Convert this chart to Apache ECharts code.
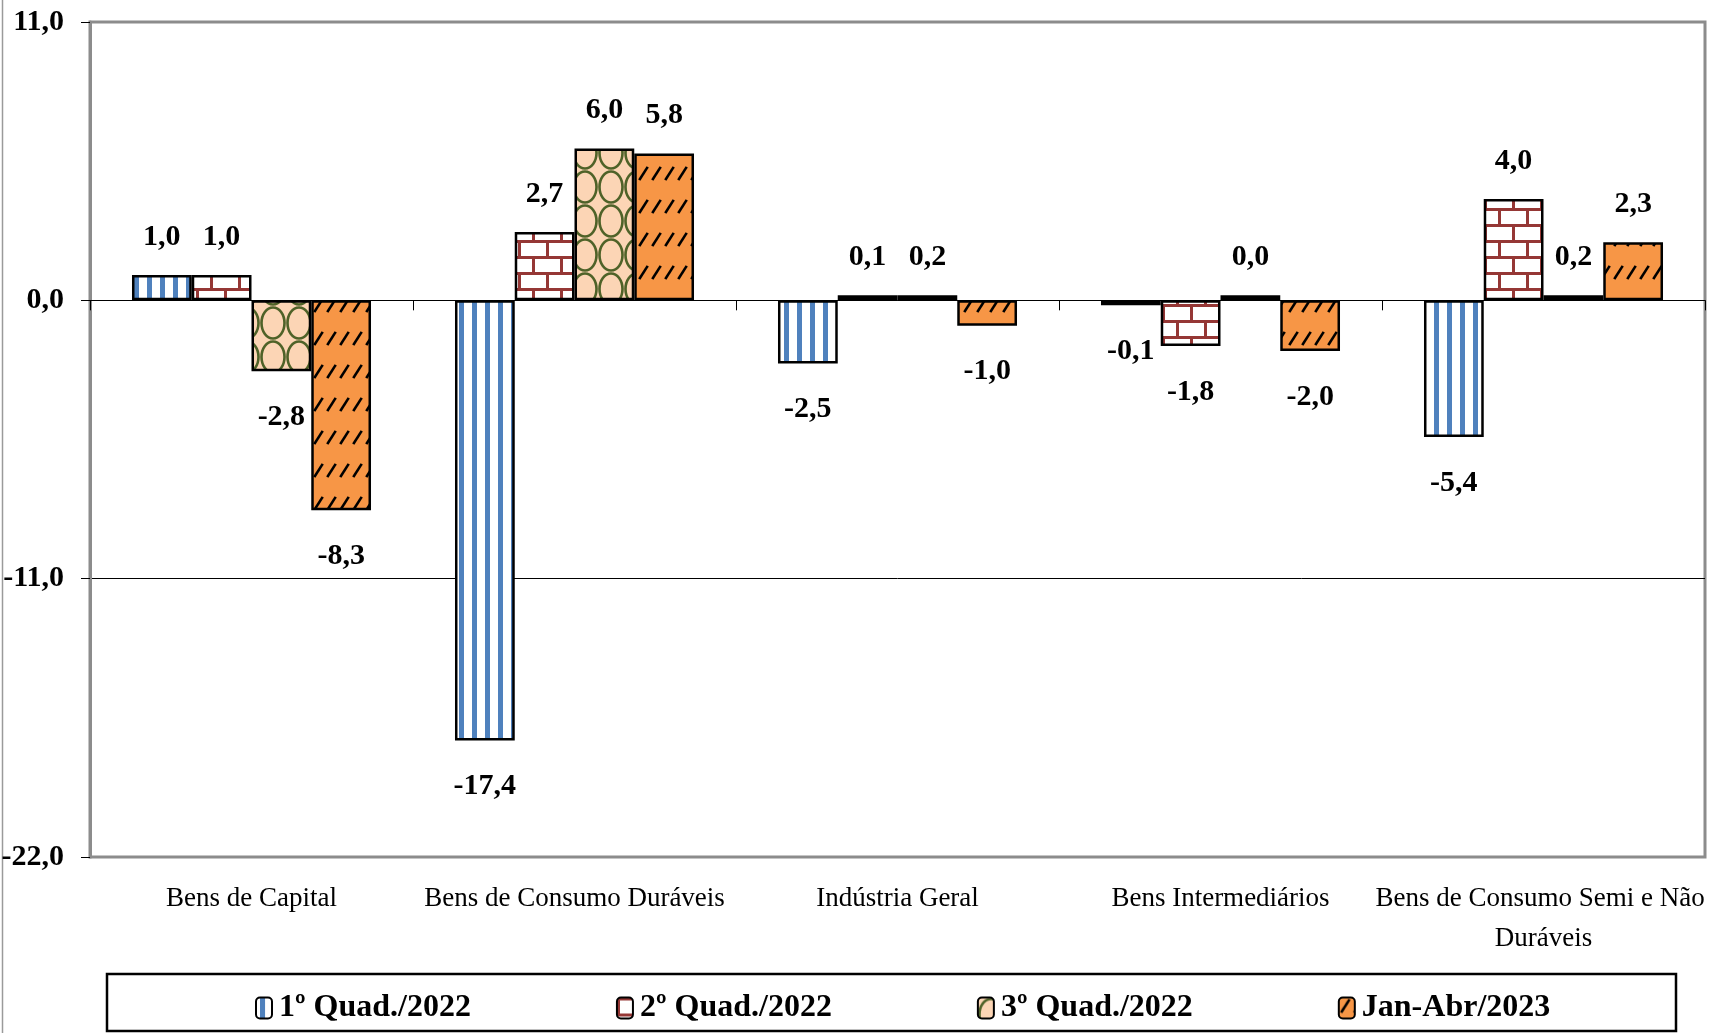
<!DOCTYPE html>
<html><head><meta charset="utf-8">
<script src="https://cdn.jsdelivr.net/npm/echarts/dist/echarts.min.js"></script>
<style>html,body{margin:0;padding:0;background:#fff}#c{width:1720px;height:1033px}</style>
</head><body><div id="c"></div>
<script>
const categories = ['Bens de Capital', 'Bens de Consumo Duráveis', 'Indústria Geral', 'Bens Intermediários', 'Bens de Consumo Semi e Não Duráveis'];
const seriesNames = ['1º Quad./2022', '2º Quad./2022', '3º Quad./2022', 'Jan-Abr/2023'];
const q1_2022 = [1.0, -17.4, -2.5, -0.1, -5.4];
const q2_2022 = [1.0, 2.7, 0.1, -1.8, 4.0];
const q3_2022 = [-2.8, 6.0, 0.2, 0.0, 0.2];
const janAbr2023 = [-8.3, 5.8, -1.0, -2.0, 2.3];
const yMin = -22, yMax = 11, yStep = 11;

const FONT = 'Liberation Serif';
function mk(w, h, draw) {
  const c = document.createElement('canvas');
  c.width = w; c.height = h;
  const g = c.getContext('2d');
  draw(g);
  return { image: c, repeat: 'repeat' };
}
const patStripes = mk(13, 4, g => {
  g.fillStyle = '#fff'; g.fillRect(0, 0, 13, 4);
  g.fillStyle = '#4F81BD'; g.fillRect(4, 0, 5, 4);
});
const patBrick = mk(28, 32, g => {
  g.fillStyle = '#fff'; g.fillRect(0, 0, 28, 32);
  g.fillStyle = '#953735';
  g.fillRect(0, 0, 28, 3); g.fillRect(0, 16, 28, 3);
  g.fillRect(0, 3, 3, 13); g.fillRect(14, 19, 3, 13);
});
const patScale = mk(26, 34, g => {
  g.fillStyle = '#FCD5B5'; g.fillRect(0, 0, 26, 34);
  g.strokeStyle = '#4F6228'; g.lineWidth = 2.6;
  g.beginPath(); g.ellipse(13, 17, 11.5, 15.5, 0, 0, Math.PI * 2); g.stroke();
});
const patDash = mk(13, 33, g => {
  g.fillStyle = '#F79646'; g.fillRect(0, 0, 13, 33);
  g.strokeStyle = '#000'; g.lineWidth = 2.6; g.lineCap = 'square';
  g.beginPath(); g.moveTo(3, 14); g.lineTo(10, 3); g.stroke();
});
const patterns = [patStripes, patBrick, patScale, patDash];
const allData = [q1_2022, q2_2022, q3_2022, janAbr2023];

const fmt = v => v.toFixed(1).replace('.', ',');

const series = allData.map((arr, i) => ({
  name: seriesNames[i],
  type: 'bar',
  xAxisIndex: 0,
  barGap: '0%',
  barCategoryGap: '26%',
  barMinHeight: 5,
  itemStyle: { color: patterns[i], borderColor: '#000', borderWidth: 2.5 },
  label: {
    show: true,
    fontFamily: FONT, fontWeight: 'bold', fontSize: 30, color: '#000',
    formatter: p => fmt(p.value)
  },
  data: arr.map(v => ({
    value: v,
    label: { position: v >= 0 ? 'top' : 'bottom', distance: v >= 0 ? 23 : 31 }
  }))
}));

const chart = echarts.init(document.getElementById('c'), null, { renderer: 'canvas' });
chart.setOption({
  animation: false,
  backgroundColor: '#fff',
  grid: {
    left: 90, right: 15, top: 22, bottom: 176,
    containLabel: false, outerBoundsMode: 'none',
    show: true, borderColor: '#8c8c8c', borderWidth: 3
  },
  legend: {
    data: seriesNames,
    left: 250, top: 987,
    itemWidth: 16, itemHeight: 21, itemGap: 145,
    textStyle: { fontFamily: FONT, fontWeight: 'bold', fontSize: 32, color: '#000', padding: [0, 0, 0, 2] }
  },
  xAxis: [
    {
      type: 'category', data: categories,
      axisLine: { onZero: true, lineStyle: { color: '#000', width: 1 } },
      axisTick: { show: true, length: 10, lineStyle: { color: '#000', width: 1 } },
      axisLabel: { show: false },
      splitLine: { show: false }
    },
    {
      type: 'category', data: categories, position: 'bottom',
      axisLine: { show: false, onZero: false },
      axisTick: { show: false },
      axisLabel: {
        interval: 0, fontFamily: FONT, fontSize: 27, color: '#000',
        margin: 22, lineHeight: 40, width: 360, overflow: 'break'
      },
      splitLine: { show: false }
    }
  ],
  yAxis: {
    type: 'value', min: yMin, max: yMax, interval: yStep,
    name: '%', nameLocation: 'middle', nameGap: 43,
    nameTextStyle: { fontFamily: FONT, fontWeight: 'bold', fontSize: 27, color: '#000' },
    axisLine: { show: true, lineStyle: { color: '#8c8c8c', width: 3 } },
    axisTick: { show: true, length: 9, lineStyle: { color: '#000', width: 1 } },
    axisLabel: { fontFamily: FONT, fontWeight: 'bold', fontSize: 30, color: '#000', margin: 26, formatter: v => fmt(v) },
    splitLine: { show: true, lineStyle: { color: ['#8c8c8c', '#000', '#000', '#8c8c8c'], width: 1 } }
  },
  graphic: [
    { type: 'line', shape: { x1: 2.5, y1: 0, x2: 2.5, y2: 1033 }, style: { stroke: '#9a9a9a', lineWidth: 1.5 }, silent: true },
    { type: 'rect', shape: { x: 107, y: 974, width: 1569, height: 57 }, style: { fill: 'none', stroke: '#000', lineWidth: 2.5 }, silent: true }
  ],
  series: series
});
</script>
</body></html>
